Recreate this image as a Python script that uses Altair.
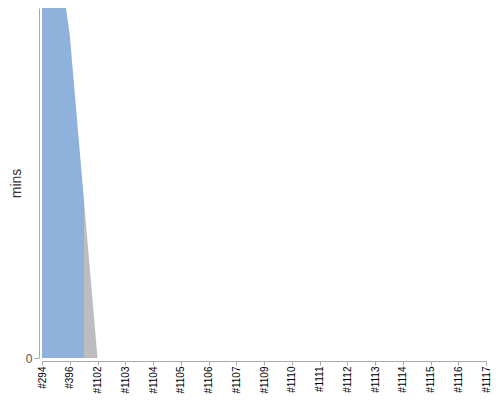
import altair as alt
import pandas as pd

builds = ["#294", "#396", "#1102", "#1103", "#1104", "#1105", "#1106", "#1107",
          "#1109", "#1110", "#1111", "#1112", "#1113", "#1114", "#1115", "#1116", "#1117"]
mins = [148.3, 92.3, 0, 0, 0, 0, 0, 0, 0, 0, 0, 0, 0, 0, 0, 0, 0]
y_domain = [0, 100]

blue = "#8eb2dc"
grey = "#bdbdbd"

df = pd.DataFrame({"build": builds, "mins": mins})

fill = alt.Gradient(
    gradient="linear",
    stops=[
        alt.GradientStop(color=blue, offset=0),
        alt.GradientStop(color=blue, offset=0.0937),
        alt.GradientStop(color=grey, offset=0.0937),
        alt.GradientStop(color=grey, offset=1),
    ],
    x1=0, x2=1, y1=0, y2=0,
)

chart = alt.Chart(df).mark_area(clip=True, color=fill).encode(
    x=alt.X("build:N", sort=builds, title=None,
            scale=alt.Scale(type="point", padding=0, domain=builds),
            axis=alt.Axis(labelAngle=-90, labelFontSize=10, labelColor="#000",
                          labelFont="Liberation Sans", offset=3, tickSize=4,
                          labelPadding=1,
                          domainColor="#aaa", tickColor="#aaa", grid=False)),
    y=alt.Y("mins:Q", title="mins",
            scale=alt.Scale(domain=y_domain, nice=False),
            axis=alt.Axis(values=[0], offset=3, labelFontSize=12, labelColor="#555",
                          labelFont="Liberation Sans", titleFont="Liberation Sans",
                          titleFontSize=14, titleFontWeight="normal", titleColor="#333",
                          titlePadding=2,
                          domainColor="#aaa", tickColor="#aaa", grid=False)),
).properties(
    width=444, height=350,
    autosize=alt.AutoSizeParams(type="none"),
    padding={"left": 34, "top": 0, "right": 6, "bottom": 38},
).configure_view(stroke=None)

chart.save("out.html", embed_options={"renderer": "svg", "actions": False})
